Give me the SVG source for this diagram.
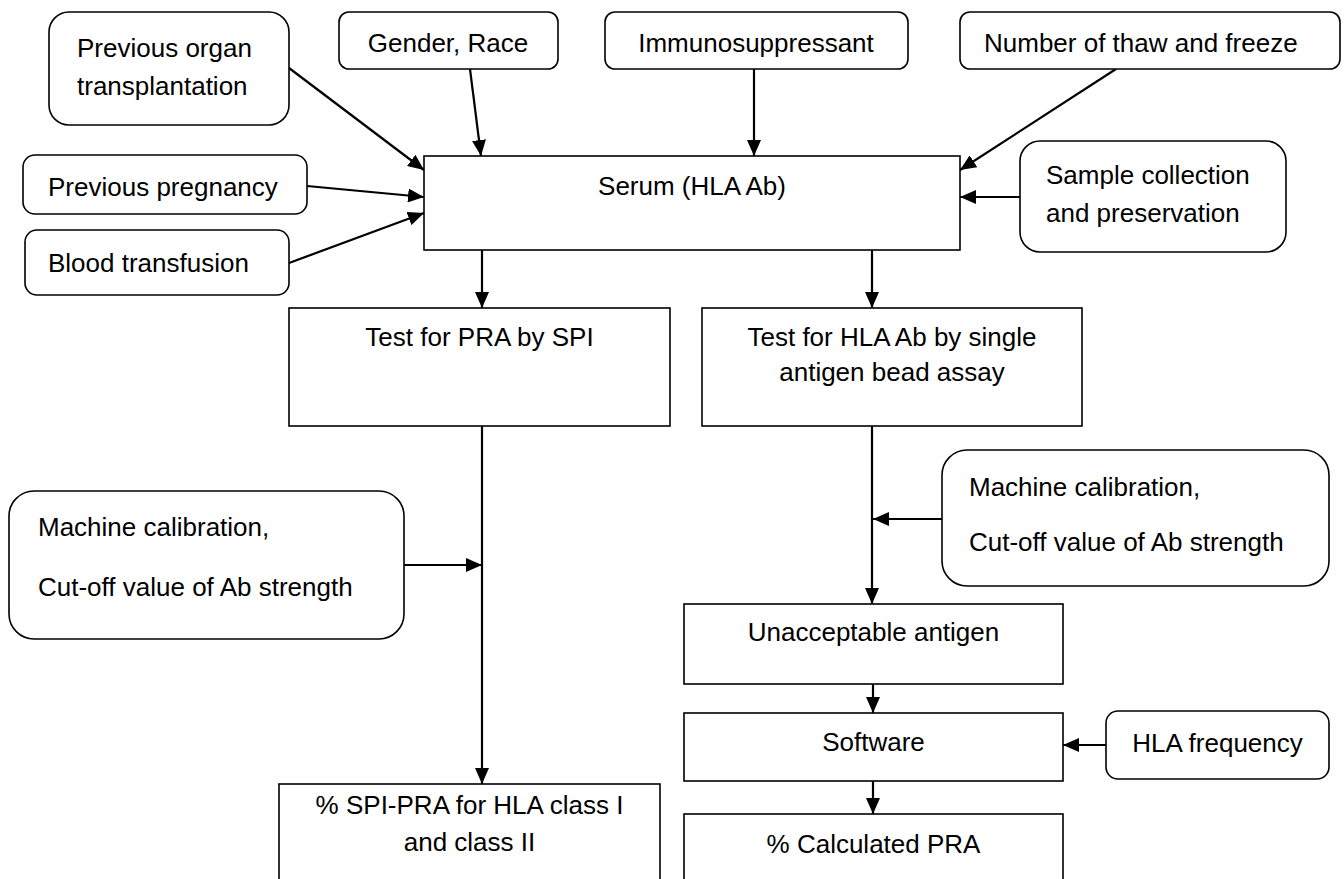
<svg xmlns="http://www.w3.org/2000/svg" width="1344" height="879" viewBox="0 0 1344 879">
<style>
.box{fill:#ffffff;stroke:#000000;stroke-width:1.6}
.t{font-family:"Liberation Sans",Arial,sans-serif;font-size:26px;fill:#000000}
.m{text-anchor:middle}
.c{fill:none;stroke:#000000;stroke-width:2.2;marker-end:url(#ah)}
</style>
<defs>
<marker id="ah" markerUnits="userSpaceOnUse" markerWidth="16" markerHeight="14" refX="16" refY="7" orient="auto">
<path d="M0,0 L16,7 L0,14 z" fill="#000000"/>
</marker>
</defs>
<rect width="1344" height="879" fill="#ffffff"/>
<g id="connectors">
<line class="c" x1="289" y1="68" x2="424" y2="170"/>
<line class="c" x1="470" y1="69" x2="481" y2="156"/>
<line class="c" x1="754" y1="69" x2="754" y2="156"/>
<line class="c" x1="1116" y1="69" x2="960" y2="170"/>
<line class="c" x1="307" y1="186" x2="424" y2="197"/>
<line class="c" x1="289" y1="263" x2="424" y2="213"/>
<line class="c" x1="1020" y1="197" x2="960" y2="197"/>
<line class="c" x1="482" y1="250" x2="482" y2="308"/>
<line class="c" x1="872" y1="250" x2="872" y2="308"/>
<line class="c" x1="482" y1="426" x2="482" y2="784"/>
<line class="c" x1="404" y1="565" x2="482" y2="565"/>
<line class="c" x1="872" y1="426" x2="872" y2="604"/>
<line class="c" x1="942" y1="519" x2="873" y2="519"/>
<line class="c" x1="873" y1="684" x2="873" y2="713"/>
<line class="c" x1="873" y1="781" x2="873" y2="814"/>
<line class="c" x1="1106" y1="745" x2="1063" y2="745"/>
</g>
<g id="organ"><rect class="box" x="49" y="12" width="240" height="113" rx="20"/><text class="t" x="77" y="57">Previous organ</text><text class="t" x="77" y="95">transplantation</text></g>
<g id="gender"><rect class="box" x="339" y="12" width="219" height="57" rx="10"/><text class="t m" x="448" y="52">Gender, Race</text></g>
<g id="immuno"><rect class="box" x="605" y="12" width="303" height="57" rx="10"/><text class="t m" x="756" y="52">Immunosuppressant</text></g>
<g id="thaw"><rect class="box" x="960" y="12" width="380" height="57" rx="10"/><text class="t" x="984" y="52">Number of thaw and freeze</text></g>
<g id="serum"><rect class="box" x="424" y="156" width="536" height="94"/><text class="t m" x="692" y="195">Serum (HLA Ab)</text></g>
<g id="pregnancy"><rect class="box" x="23" y="155" width="284" height="59" rx="12"/><text class="t" x="48" y="196">Previous pregnancy</text></g>
<g id="blood"><rect class="box" x="25" y="230" width="264" height="65" rx="12"/><text class="t" x="48" y="272">Blood transfusion</text></g>
<g id="sample"><rect class="box" x="1020" y="141" width="266" height="111" rx="20"/><text class="t" x="1046" y="184">Sample collection</text><text class="t" x="1046" y="222">and preservation</text></g>
<g id="testPRA"><rect class="box" x="289" y="308" width="381" height="118"/><text class="t m" x="479.5" y="346">Test for PRA by SPI</text></g>
<g id="testHLA"><rect class="box" x="702" y="308" width="380" height="118"/><text class="t m" x="892" y="346">Test for HLA Ab by single</text><text class="t m" x="892" y="381">antigen bead assay</text></g>
<g id="machineLeft"><rect class="box" x="9" y="491" width="395" height="148" rx="25"/><text class="t" x="38" y="536">Machine calibration,</text><text class="t" x="38" y="596">Cut-off value of Ab strength</text></g>
<g id="machineRight"><rect class="box" x="942" y="450" width="387" height="136" rx="25"/><text class="t" x="969" y="496">Machine calibration,</text><text class="t" x="969" y="551">Cut-off value of Ab strength</text></g>
<g id="unacceptable"><rect class="box" x="684" y="604" width="379" height="80"/><text class="t m" x="873.5" y="641">Unacceptable antigen</text></g>
<g id="software"><rect class="box" x="684" y="713" width="379" height="68"/><text class="t m" x="873.5" y="751">Software</text></g>
<g id="hlaFrequency"><rect class="box" x="1106" y="711" width="223" height="68" rx="12"/><text class="t m" x="1217.5" y="752">HLA frequency</text></g>
<g id="spiPRA"><rect class="box" x="279" y="784" width="381" height="110"/><text class="t m" x="469.5" y="814">% SPI-PRA for HLA class I</text><text class="t m" x="469.5" y="851">and class II</text></g>
<g id="calculatedPRA"><rect class="box" x="684" y="814" width="379" height="80"/><text class="t m" x="873.5" y="853">% Calculated PRA</text></g>
</svg>
